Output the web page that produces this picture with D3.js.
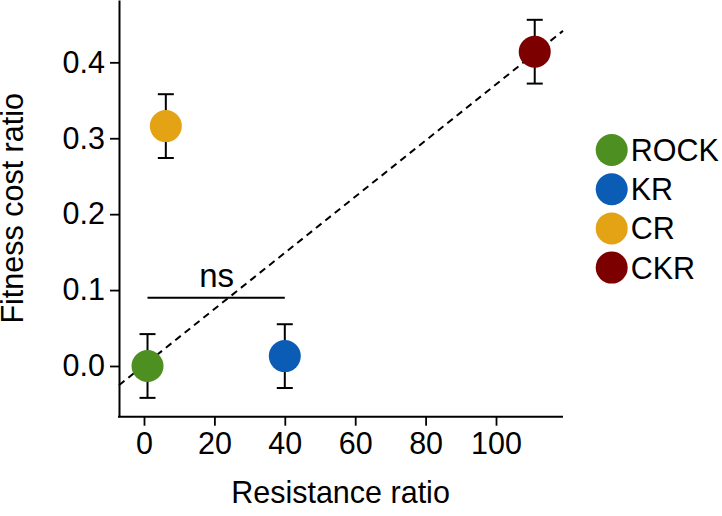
<!DOCTYPE html>
<html>
<head>
<meta charset="utf-8">
<script src="https://cdn.jsdelivr.net/npm/d3@7"></script>
<style>
  html, body { margin: 0; padding: 0; background: #fff; }
  svg { display: block; font-family: "Liberation Sans", Arial, sans-serif; }
</style>
</head>
<body>
<svg id="chart" width="722" height="516"></svg>
<script>
// ---- data ----
const groups = ["ROCK", "KR", "CR", "CKR"];
const resistanceRatio = [1, 40, 6.2, 111];
const fitnessCost = [0.0, 0.013, 0.316, 0.414];
const fitnessErr = [0.042, 0.042, 0.042, 0.042];
const groupColors = ["#4D8F21", "#0B5CB5", "#E4A215", "#7D0000"];
const xTicks = [0, 20, 40, 60, 80, 100];
const yTicks = [0.0, 0.1, 0.2, 0.3, 0.4];
const fitSlope = 0.0037;
const fitIntercept = 0.001;
const nsBracket = { x1: 1, x2: 40, y: 0.09, label: "ns" };

(function () {
// ---- layout ----
const svg = d3.select("#chart");
const pLeft = 119, pRight = 563, pTop = 0, pBottom = 416.7;
const fs = "30.5px";

const x = d3.scaleLinear().domain([-7.1, 119.03]).range([pLeft, pRight]);
const y = d3.scaleLinear().domain([-0.0668, 0.4821]).range([pBottom, pTop]);

// axes
const xAxis = d3.axisBottom(x).tickValues(xTicks).tickFormat(d3.format("d"))
  .tickSize(9).tickSizeOuter(0).tickPadding(7);
const yAxis = d3.axisLeft(y).tickValues(yTicks).tickFormat(d3.format(".1f"))
  .tickSize(9).tickSizeOuter(0).tickPadding(5);

const gx = svg.append("g").attr("transform", `translate(0,${pBottom})`).call(xAxis);
const gy = svg.append("g").attr("transform", `translate(${pLeft},0)`).call(yAxis);
[gx, gy].forEach(g => {
  g.selectAll("path.domain").attr("stroke", "#000").attr("stroke-width", 2);
  g.selectAll(".tick line").attr("stroke", "#000").attr("stroke-width", 1.8);
  g.selectAll(".tick text").attr("fill", "#000").style("font-size", fs)
    .style("font-family", '"Liberation Sans", Arial, sans-serif');
});
// join corner
gx.select("path.domain").attr("d", `M${pLeft - 1},0H${pRight}`);

// axis titles
svg.append("text")
  .attr("x", (pLeft + pRight) / 2 - 0.5).attr("y", 503)
  .attr("text-anchor", "middle").style("font-size", fs)
  .text("Resistance ratio");
svg.append("text")
  .attr("transform", `translate(23,${(pTop + pBottom) / 2}) rotate(-90)`)
  .attr("text-anchor", "middle").style("font-size", fs)
  .text("Fitness cost ratio");

// dashed fit line
const xd = x.domain();
svg.append("line")
  .attr("x1", x(xd[0])).attr("y1", y(fitIntercept + fitSlope * xd[0]))
  .attr("x2", x(xd[1])).attr("y2", y(fitIntercept + fitSlope * xd[1]))
  .attr("stroke", "#000").attr("stroke-width", 2).attr("stroke-dasharray", "7,5");

// ns bracket
svg.append("line")
  .attr("x1", x(nsBracket.x1)).attr("x2", x(nsBracket.x2))
  .attr("y1", y(nsBracket.y)).attr("y2", y(nsBracket.y))
  .attr("stroke", "#000").attr("stroke-width", 2);
svg.append("text")
  .attr("x", x((nsBracket.x1 + nsBracket.x2) / 2) + 0.5).attr("y", y(nsBracket.y) - 10.4)
  .attr("text-anchor", "middle").style("font-size", "33px")
  .text(nsBracket.label);

// error bars
const idx = d3.range(groups.length);
const eb = svg.append("g").attr("stroke", "#000").attr("stroke-width", 2);
idx.forEach(i => {
  const cx = x(resistanceRatio[i]);
  const hi = y(fitnessCost[i] + fitnessErr[i]);
  const lo = y(fitnessCost[i] - fitnessErr[i]);
  eb.append("line").attr("x1", cx).attr("x2", cx).attr("y1", hi).attr("y2", lo);
  eb.append("line").attr("x1", cx - 8).attr("x2", cx + 8).attr("y1", hi).attr("y2", hi);
  eb.append("line").attr("x1", cx - 8).attr("x2", cx + 8).attr("y1", lo).attr("y2", lo);
});

// points
svg.append("g").selectAll("circle").data(idx).join("circle")
  .attr("cx", i => x(resistanceRatio[i]))
  .attr("cy", i => y(fitnessCost[i]))
  .attr("r", 16)
  .attr("fill", i => groupColors[i]);

// legend
const lg = svg.append("g").attr("transform", "translate(611.7,150)");
const rows = lg.selectAll("g").data(idx).join("g")
  .attr("transform", i => `translate(0,${i * 39.2})`);
rows.append("circle").attr("r", 16).attr("fill", i => groupColors[i]);
rows.append("text").attr("x", 19).attr("dy", "0.36em")
  .style("font-size", fs).text(i => groups[i]);
})();
</script>
</body>
</html>
